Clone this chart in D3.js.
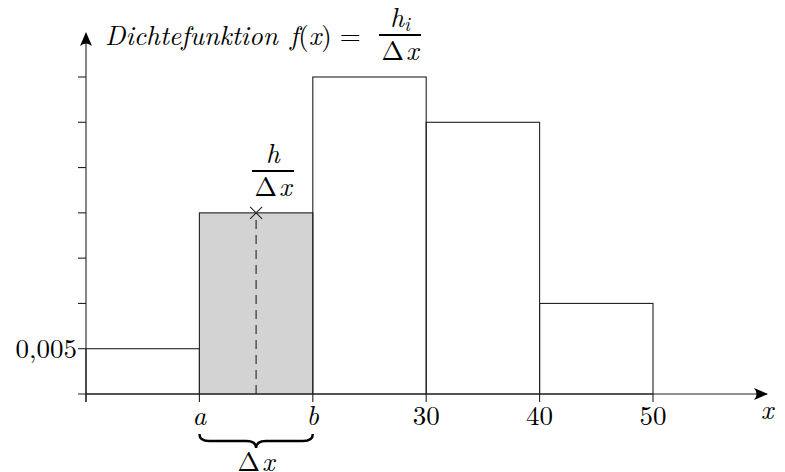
<!DOCTYPE html>
<html>
<head>
<meta charset="utf-8">
<script src="https://cdn.jsdelivr.net/npm/d3@7"></script>
<style>
  body { margin: 0; background: #fff; }
</style>
</head>
<body>
<div id="chart"></div>
<script>
// class edges and density heights
const binEdges = [0, 10, 20, 30, 40, 50];
const densities = [0.005, 0.02, 0.035, 0.03, 0.01];
const yTicks = [0.005, 0.01, 0.015, 0.02, 0.025, 0.03, 0.035];
const yTickLabels = {0.005: '0,005'};
const xTicks = [0, 10, 20, 30, 40, 50];
const xTickLabels = {10: 'a', 20: 'b', 30: '30', 40: '40', 50: '50'};
const highlightBin = 1; // the grey bar between a and b

const width = 785, height = 472;
const serif = '"Latin Modern Roman", "Liberation Serif", serif';
const fs = '27px';

const svg = d3.select('#chart').append('svg')
    .attr('width', width)
    .attr('height', height);

// text helper so every label gets the LaTeX-like font
function txt(sel) {
    return sel.append('text')
        .style('font-family', serif)
        .style('font-size', fs)
        .style('fill', '#000');
}

const x = d3.scaleLinear().domain([0, 50]).range([86, 653]);
const y = d3.scaleLinear().domain([0, 0.035]).range([394, 77]);

const ink = '#222';

// bars
const bars = densities.map((d, i) => ({x0: binEdges[i], x1: binEdges[i + 1], h: d, i: i}));
svg.append('g').selectAll('rect')
    .data(bars)
    .enter()
    .append('rect')
        .attr('x', d => x(d.x0))
        .attr('y', d => y(d.h))
        .attr('width', d => x(d.x1) - x(d.x0))
        .attr('height', d => y(0) - y(d.h))
        .style('fill', d => d.i === highlightBin ? '#d3d3d3' : 'none')
        .style('stroke', ink)
        .style('stroke-width', 1.1);

// dashed line + cross at middle of highlighted bar
const hb = bars[highlightBin];
const xm = x((hb.x0 + hb.x1) / 2);
svg.append('line')
    .attr('x1', xm).attr('x2', xm)
    .attr('y1', y(0)).attr('y2', y(hb.h))
    .style('stroke', ink)
    .style('stroke-dasharray', '9,6')
    .style('stroke-width', 1.1);
svg.append('path')
    .attr('d', `M${xm - 6},${y(hb.h) - 6}L${xm + 6},${y(hb.h) + 6}M${xm - 6},${y(hb.h) + 6}L${xm + 6},${y(hb.h) - 6}`)
    .style('stroke', ink)
    .style('stroke-width', 1.1);

// axes lines
const axisG = svg.append('g');
axisG.append('line')
    .attr('x1', x(0) - 8).attr('x2', 767)
    .attr('y1', y(0)).attr('y2', y(0))
    .style('stroke', ink).style('stroke-width', 1.1);
axisG.append('line')
    .attr('x1', x(0)).attr('x2', x(0))
    .attr('y1', y(0) + 8).attr('y2', 34)
    .style('stroke', ink).style('stroke-width', 1.1);

// stealth-like arrow heads
function arrow(tx, ty, dir) {
    const p = dir === 'right'
        ? `M${tx},${ty}L${tx - 14},${ty - 6}Q${tx - 9},${ty} ${tx - 14},${ty + 6}Z`
        : `M${tx},${ty}L${tx - 6},${ty + 14}Q${tx},${ty + 9} ${tx + 6},${ty + 14}Z`;
    axisG.append('path').attr('d', p).style('fill', '#000');
}
arrow(768, y(0), 'right');
arrow(x(0), 32, 'up');

// y ticks
axisG.selectAll('.ytick')
    .data(yTicks)
    .enter()
    .append('line')
        .attr('x1', x(0) - 8).attr('x2', x(0))
        .attr('y1', d => y(d)).attr('y2', d => y(d))
        .style('stroke', ink).style('stroke-width', 1.1);
yTicks.filter(d => yTickLabels[d]).forEach(d => {
    txt(axisG)
        .attr('x', x(0) - 9)
        .attr('y', y(d) + 9)
        .attr('text-anchor', 'end')
        .text(yTickLabels[d]);
});

// x ticks
axisG.selectAll('.xtick')
    .data(xTicks)
    .enter()
    .append('line')
        .attr('x1', d => x(d)).attr('x2', d => x(d))
        .attr('y1', y(0)).attr('y2', y(0) + 8)
        .style('stroke', ink).style('stroke-width', 1.1);
xTicks.filter(d => xTickLabels[d]).forEach(d => {
    txt(axisG)
        .attr('x', x(d))
        .attr('y', y(0) + 31)
        .attr('text-anchor', 'middle')
        .style('font-style', isNaN(+xTickLabels[d]) ? 'italic' : 'normal')
        .text(xTickLabels[d]);
});

// axis label x
txt(svg)
    .attr('x', 767).attr('y', 419)
    .attr('text-anchor', 'middle')
    .style('font-style', 'italic')
    .text('x');

// fraction helper
function fraction(cx, barY, top, bottom, w) {
    const g = svg.append('g');
    const t = txt(g).attr('x', cx).attr('y', barY - 8)
        .attr('text-anchor', 'middle');
    top(t);
    g.append('line')
        .attr('x1', cx - w / 2).attr('x2', cx + w / 2)
        .attr('y1', barY).attr('y2', barY)
        .style('stroke', '#000').style('stroke-width', 2);
    const b = txt(g).attr('x', cx).attr('y', barY + 25)
        .attr('text-anchor', 'middle');
    bottom(b);
}
const deltaX = t => {
    t.append('tspan').text('Δ');
    t.append('tspan').attr('dx', 2).style('font-style', 'italic').text('x');
};

// title
txt(svg)
    .attr('x', 105).attr('y', 45)
    .style('font-style', 'italic')
    .text('Dichtefunktion');
const fx = txt(svg)
    .attr('x', 290).attr('y', 45);
fx.append('tspan').style('font-style', 'italic').text('f');
fx.append('tspan').text('(');
fx.append('tspan').style('font-style', 'italic').text('x');
fx.append('tspan').text(')');
fx.append('tspan').attr('dx', 8).text('=');
fraction(400, 35, t => {
    t.append('tspan').style('font-style', 'italic').text('h');
    t.append('tspan').attr('dy', 4).style('font-size', '19px').style('font-style', 'italic').text('i');
}, deltaX, 42);

// h / Δx label above the cross
fraction(273, 171, t => {
    t.append('tspan').style('font-style', 'italic').text('h');
}, deltaX, 42);

// brace under a..b
const bx0 = x(hb.x0), bx1 = x(hb.x1), bm = (bx0 + bx1) / 2;
const by = 434;
svg.append('path')
    .attr('d', `M${bx0},${by} Q${bx0},${by + 7} ${bx0 + 10},${by + 7} L${bm - 10},${by + 7} Q${bm},${by + 7} ${bm},${by + 14} Q${bm},${by + 7} ${bm + 10},${by + 7} L${bx1 - 10},${by + 7} Q${bx1},${by + 7} ${bx1},${by}`)
    .style('fill', 'none')
    .style('stroke', '#000')
    .style('stroke-width', 2.4);
const dlab = txt(svg)
    .attr('x', bm).attr('y', 471)
    .attr('text-anchor', 'middle');
deltaX(dlab);
</script>
</body>
</html>
